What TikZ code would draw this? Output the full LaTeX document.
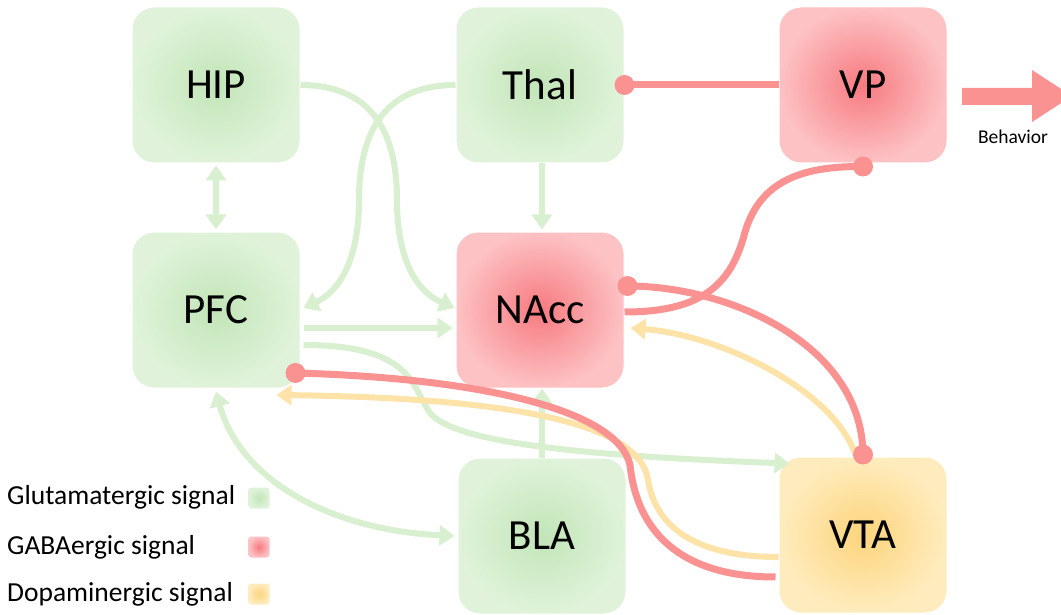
\documentclass[tikz,border=0pt]{standalone}
\usepackage{fontspec}
\setmainfont{Carlito}
\usetikzlibrary{arrows.meta,calc}
\definecolor{gC}{RGB}{194,229,184}
\definecolor{gO}{RGB}{224,243,218}
\definecolor{rC}{RGB}{246,122,128}
\definecolor{rO}{RGB}{253,194,196}
\definecolor{yC}{RGB}{253,212,124}
\definecolor{yO}{RGB}{254,236,190}
\definecolor{glin}{RGB}{216,239,208}
\definecolor{rlin}{RGB}{250,146,146}
\definecolor{ylin}{RGB}{253,227,168}
\tikzset{
  box/.style={rounded corners=22pt, minimum width=168pt, minimum height=156pt,
    shading=radial, font=\fontsize{43}{46}\selectfont, text=black, draw=white, line width=1pt},
  gbox/.style={box, inner color=gC, outer color=gO},
  rbox/.style={box, inner color=rC, outer color=rO},
  ybox/.style={box, inner color=yC, outer color=yO},
  tri/.style={-{Triangle[width=20pt,length=15pt]}},
  glu/.style={draw=glin, line width=6pt},
  gaba/.style={draw=rlin, line width=7pt},
  dopa/.style={draw=ylin, line width=6pt},
  rdot/.style={circle, fill=rlin, inner sep=0pt, minimum size=20pt},
  legtext/.style={anchor=west, inner sep=0pt, font=\fontsize{27.5}{30}\selectfont},
  legsq/.style={rounded corners=3pt, minimum size=21pt, inner sep=0pt, shading=radial}
}
\begin{document}
\begin{tikzpicture}[x=1pt,y=-1pt]
\useasboundingbox (0,0) rectangle (1061,615);
% boxes
\node[gbox] (HIP)  at (216,85)  {HIP};
\node[gbox] (Thal) at (540,85)  {Thal};
\node[rbox] (VP)   at (863,85)  {VP};
\node[gbox] (PFC)  at (216,310) {PFC};
\node[rbox] (NAcc) at (540,310) {NAcc};
\node[gbox] (BLA)  at (542,536) {BLA};
\node[ybox] (VTA)  at (863,535) {VTA};

% glutamatergic
\draw[glu,{Triangle[width=20pt,length=15pt]}-{Triangle[width=20pt,length=15pt]}]
  ($(HIP.south)+(0,2)$) -- ($(PFC.north)+(0,-2)$);
\draw[glu,tri] ($(Thal.south)+(2,0)$) -- ($(NAcc.north)+(2,-2)$);
\draw[glu,tri] (HIP.east) .. controls (370,85) and (397,130) .. (397,200)
  .. controls (397,262) and (418,292) .. ($(NAcc.west)+(-1,-2)$);
\draw[glu,tri] (Thal.west) .. controls (386,85) and (359,130) .. (359,200)
  .. controls (359,262) and (338,292) .. ($(PFC.east)+(3,-2)$);
\draw[glu,tri] ($(PFC.east)+(3,18)$) -- ($(NAcc.west)+(-3,18)$);
\draw[glu,tri] ($(PFC.east)+(3,35)$) .. controls (410,345) and (412,385) .. (428,410)
  .. controls (445,440) and (560,455) .. ($(VTA.north west)+(11,7)$);
\draw[glu,tri] (BLA.north) -- (BLA.north |- NAcc.south);
\draw[glu,{Triangle[width=20pt,length=15pt]}-{Triangle[width=20pt,length=15pt]}]
  ($(PFC.south)+(0,3)$) .. controls (240,480) and (330,530) .. ($(BLA.west)+(-3,0)$);

% dopaminergic
\draw[dopa,tri] ($(VTA.north)+(-7,0)$) .. controls (835,390) and (720,335) .. ($(NAcc.east)+(6,18)$);
\draw[dopa,tri] ($(VTA.west)+(0,22)$) .. controls (700,557) and (656,530) .. (648,480)
  .. controls (640,425) and (520,398) .. ($(PFC.east)+(-24,85)$);

% GABAergic
\node[rdot] (dThal) at (Thal.east) {};
\draw[gaba] (VP.west) -- (dThal.center);
\node[rdot] (dVP) at ($(VP.south)+(0,3)$) {};
\draw[gaba] ($(NAcc.east)+(0,2)$) .. controls (705,312) and (732,282) .. (745,232)
  .. controls (760,182) and (800,166) .. (dVP.center);
\node[rdot] (dNAcc) at ($(NAcc.east)+(3,-24)$) {};
\node[rdot] (dVTA) at ($(VTA.north)+(0,-2)$) {};
\draw[gaba] (dNAcc.center) .. controls (730,286) and (862,345) .. (dVTA.center);
\node[rdot] (dPFC) at ($(PFC.east)+(-5,63)$) {};
\draw[gaba] (dPFC.center) .. controls (480,378) and (618,410) .. (630,465)
  .. controls (638,540) and (690,577) .. ($(VTA.west)+(-3,42)$);

% behavior arrow
\fill[rlin] (962,88) -- (1032,88) -- (1032,70) -- (1072,96) -- (1032,122) -- (1032,105) -- (962,105) -- cycle;
\node[font=\fontsize{19.5}{22}\selectfont] (beh) at (1013,137) {Behavior};

% legend
\node[legtext] (tg) at (7,497) {Glutamatergic signal};
\node[legtext] (tr) at (7,547) {GABAergic signal};
\node[legtext] (ty) at (7,594) {Dopaminergic signal};
\node[legsq, inner color=gC, outer color=gO] (sg) at (259,498) {};
\node[legsq, inner color=rC, outer color=rO] (sr) at (259,547) {};
\node[legsq, inner color=yC, outer color=yO] (sy) at (259,594) {};
\end{tikzpicture}
\end{document}
